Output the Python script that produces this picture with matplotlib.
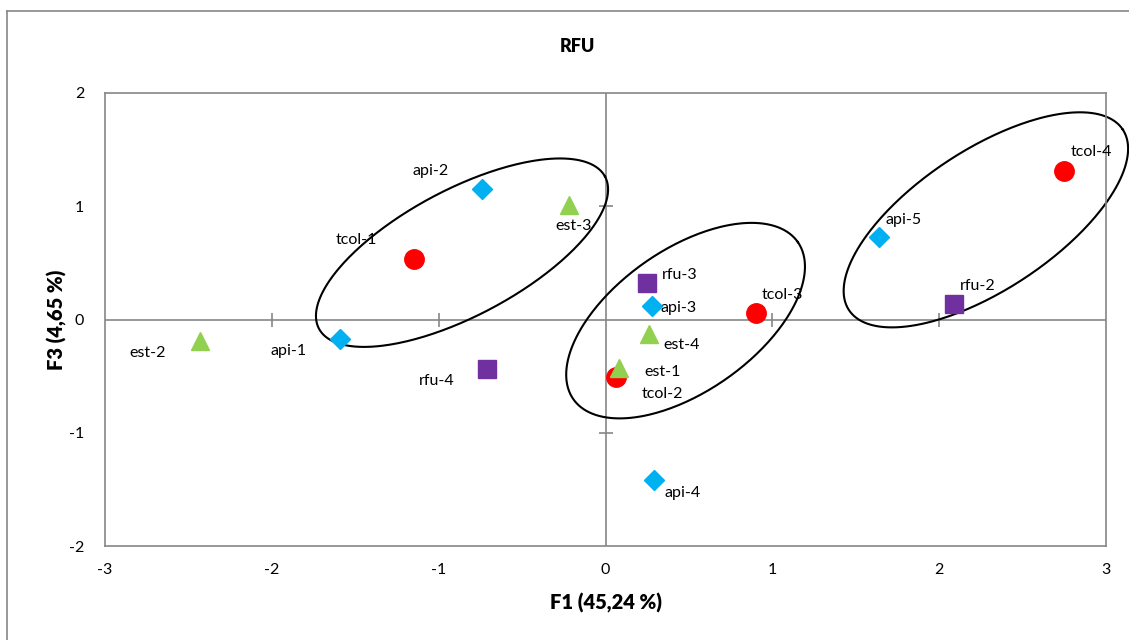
import numpy as np
import matplotlib.pyplot as plt
from matplotlib.lines import Line2D

plt.rcParams['font.family'] = ['Lato', 'DejaVu Sans']
plt.rcParams['axes.unicode_minus'] = False

# sample scores on F1 / F3, grouped by type
names_tcol = ["tcol-1", "tcol-2", "tcol-3", "tcol-4"]
f1_tcol = [-1.15, 0.06, 0.90, 2.75]
f3_tcol = [0.53, -0.51, 0.06, 1.31]

names_api = ["api-1", "api-2", "api-3", "api-4", "api-5"]
f1_api = [-1.59, -0.74, 0.28, 0.29, 1.64]
f3_api = [-0.17, 1.15, 0.12, -1.42, 0.73]

names_est = ["est-1", "est-2", "est-3", "est-4"]
f1_est = [0.08, -2.43, -0.22, 0.26]
f3_est = [-0.43, -0.19, 1.01, -0.13]

names_rfu = ["rfu-2", "rfu-3", "rfu-4"]
f1_rfu = [2.09, 0.25, -0.71]
f3_rfu = [0.14, 0.32, -0.44]

# label offsets in pixels (dx right, dy down)
offsets = {
    "tcol-1": (-57, -19), "tcol-2": (47, 17), "tcol-3": (27, -18), "tcol-4": (27, -19),
    "api-1": (-52, 12), "api-2": (-51, -18), "api-3": (26, 2), "api-4": (29, 13), "api-5": (24, -17),
    "est-1": (44, 4), "est-2": (-52, 12), "est-3": (5, 21), "est-4": (33, 11),
    "rfu-2": (24, -18), "rfu-3": (32, -8), "rfu-4": (-50, 12),
}

# group ellipses: centre (data), semi-axes (px), angle (deg)
ellipses = [
    (-0.86, 0.59, 162, 63, 28),
    (0.48, -0.01, 137, 71, 35),
    (2.28, 0.88, 164, 70, 33.4),
]

W, H = 1129, 640
fig = plt.figure(figsize=(W / 100, H / 100), dpi=100)
ax = fig.add_axes([105 / W, 1 - 546 / H, 1001 / W, 453 / H])
ax.set_xlim(-3, 3)
ax.set_ylim(-2, 2)
sx = 1001 / 6
sy = 453 / 4

grey = "#868686"
for s in ax.spines.values():
    s.set_color(grey)
    s.set_linewidth(1.2)

ax.axhline(0, color=grey, lw=1.2, zorder=1)
ax.axvline(0, color=grey, lw=1.2, zorder=1)
xt = [-3, -2, -1, 0, 1, 2, 3]
yt = [-2, -1, 0, 1, 2]
ax.plot([v for v in xt if v not in (-3, 0, 3)], [0] * 4, ls="none", marker="|",
        ms=10, mew=1.2, color=grey, zorder=1)
ax.plot([0, 0], [v for v in yt if v in (-1, 1)], ls="none", marker="_",
        ms=10, mew=1.2, color=grey, zorder=1)
ax.set_xticks(xt)
ax.set_yticks(yt)
ax.tick_params(length=0, labelsize=11.5, pad=12)
ax.tick_params(axis="y", pad=15)

ax.plot(f1_tcol, f3_tcol, ls="none", marker="o", ms=14, color="#FF0000", zorder=3)
ax.plot(f1_api, f3_api, ls="none", marker="D", ms=10, color="#00B0F0", zorder=3)
ax.plot(f1_est, f3_est, ls="none", marker="^", ms=13, color="#92D050", zorder=4)
ax.plot(f1_rfu, f3_rfu, ls="none", marker="s", ms=13.5, color="#7030A0", zorder=3)

for names, xs, ys in [(names_tcol, f1_tcol, f3_tcol), (names_api, f1_api, f3_api),
                      (names_est, f1_est, f3_est), (names_rfu, f1_rfu, f3_rfu)]:
    for n, x, y in zip(names, xs, ys):
        dx, dy = offsets[n]
        ax.annotate(n, (x, y), xytext=(dx * 0.72, -dy * 0.72), textcoords="offset points",
                    ha="center", va="center", fontsize=11.5, zorder=5)

t = np.linspace(0, 2 * np.pi, 300)
for cx, cy, a, b, ang in ellipses:
    th = np.radians(ang)
    dxp = a * np.cos(t) * np.cos(th) - b * np.sin(t) * np.sin(th)
    dyp = a * np.cos(t) * np.sin(th) + b * np.sin(t) * np.cos(th)
    ax.plot(cx + dxp / sx, cy + dyp / sy, color="black", lw=1.5, clip_on=False, zorder=2)

fig.text(577 / W, 1 - 47 / H, "RFU", ha="center", va="center", fontsize=13, fontweight="heavy")
fig.text(606 / W, 1 - 603 / H, "F1 (45,24 %)", ha="center", va="center", fontsize=14.5, fontweight="heavy")
fig.text(57 / W, 1 - 320 / H, "F3 (4,65 %)", ha="center", va="center", fontsize=14.5,
         fontweight="heavy", rotation=90)

# outer chart border (runs off the right and bottom edges)
fig.add_artist(Line2D([7 / W, 7 / W], [0, 1 - 11 / H], color=grey, lw=1.2))
fig.add_artist(Line2D([7 / W, 1], [1 - 11 / H, 1 - 11 / H], color=grey, lw=1.2))

fig.savefig("out.png", dpi=100)
